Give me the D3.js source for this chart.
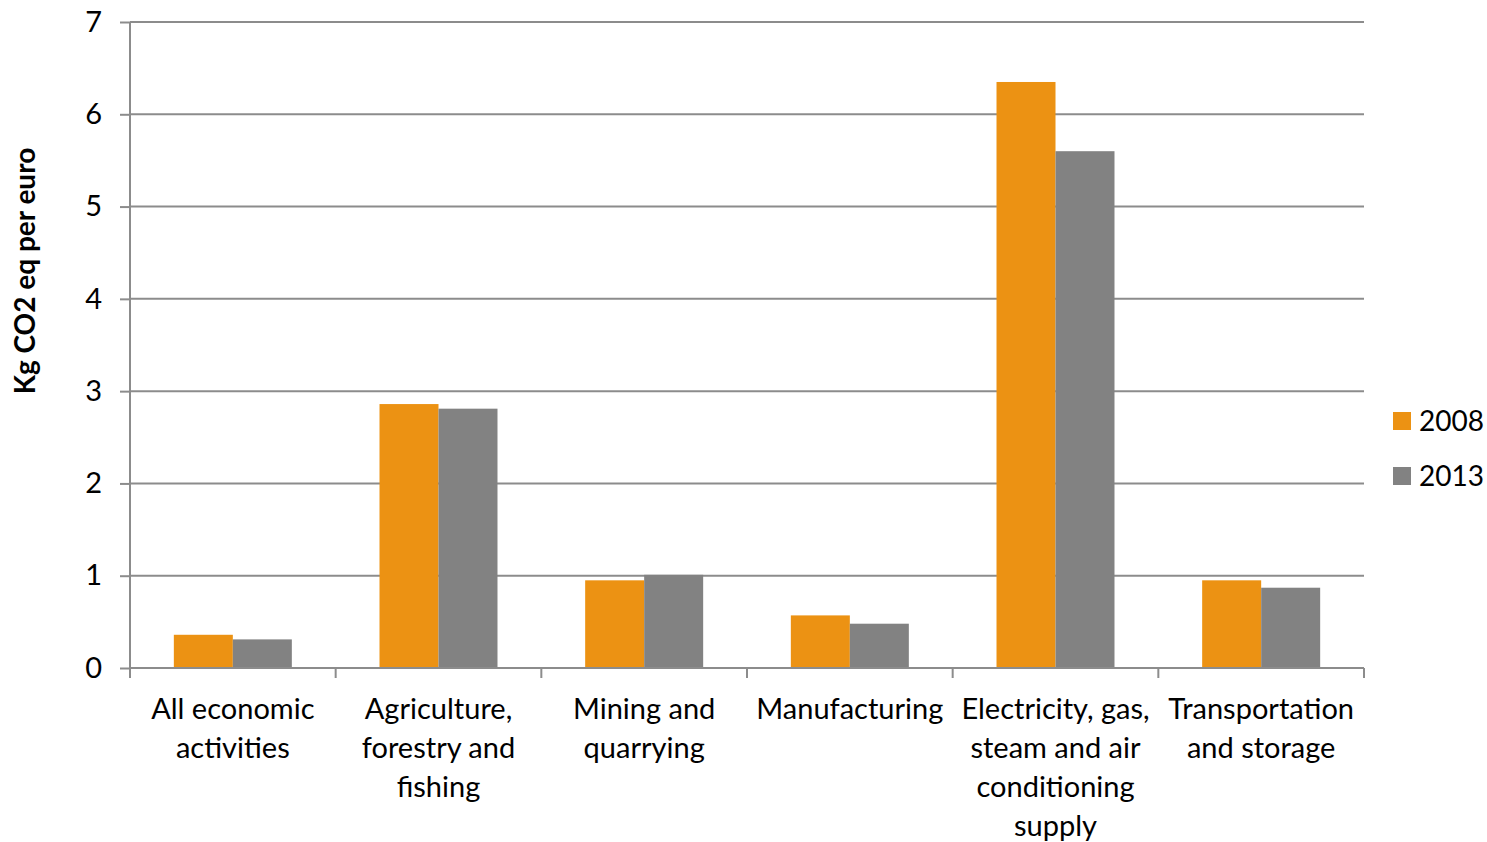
<!DOCTYPE html>
<html>
<head>
<meta charset="utf-8">
<script src="https://cdn.jsdelivr.net/npm/d3@7"></script>
<style>
  html, body { margin: 0; padding: 0; background: #fff; }
  svg { display: block; }
  text { font-family: Lato, "Open Sans", sans-serif; fill: #000; }
</style>
</head>
<body>
<svg id="chart" width="1487" height="842"></svg>
<script>
// Greenhouse gas emission intensity by economic activity
const categories = [
  ["All economic", "activities"],
  ["Agriculture,", "forestry and", "fishing"],
  ["Mining and", "quarrying"],
  ["Manufacturing"],
  ["Electricity, gas,", "steam and air", "conditioning", "supply"],
  ["Transportation", "and storage"]
];
const seriesNames = ["2008", "2013"];
const values2008 = [0.36, 2.86, 0.95, 0.57, 6.35, 0.95];
const values2013 = [0.31, 2.81, 1.01, 0.48, 5.60, 0.87];
const yTicks = [0, 1, 2, 3, 4, 5, 6, 7];
const yTitle = "Kg CO2 eq per euro";
const colors = ["#EC9213", "#828282"];

const svg = d3.select("#chart");
const plotLeft = 130, plotRight = 1364, plotTop = 22, plotBottom = 668;

const catIdx = d3.range(categories.length);
const x0 = d3.scaleBand().domain(catIdx).range([plotLeft, plotRight]).padding(0);
const x1 = d3.scaleBand().domain(seriesNames)
  .range([0, x0.bandwidth()]).paddingInner(0).paddingOuter(0.743);
const y = d3.scaleLinear().domain([0, 7]).range([plotBottom, plotTop]);

const axisColor = "#8c8c8c";

// gridlines
svg.append("g").selectAll("line").data(yTicks.filter(t => t > 0)).join("line")
  .attr("x1", plotLeft).attr("x2", plotRight)
  .attr("y1", d => y(d)).attr("y2", d => y(d))
  .attr("stroke", axisColor).attr("stroke-width", 2);

// bars
const rows = catIdx.map(i => ({ i, vals: [values2008[i], values2013[i]] }));
const groups = svg.append("g").selectAll("g").data(rows).join("g")
  .attr("transform", d => `translate(${x0(d.i)},0)`);
groups.selectAll("rect").data(d => d.vals.map((v, k) => ({ v, k }))).join("rect")
  .attr("x", d => x1(seriesNames[d.k]))
  .attr("width", x1.bandwidth())
  .attr("y", d => y(d.v))
  .attr("height", d => y(0) - y(d.v))
  .attr("fill", d => colors[d.k]);

// y axis
const yAxis = svg.append("g").attr("transform", `translate(${plotLeft},0)`)
  .call(d3.axisLeft(y).tickValues(yTicks).tickSize(10).tickPadding(18).tickFormat(d3.format("d")));
yAxis.select(".domain").attr("stroke", axisColor).attr("stroke-width", 2)
  .attr("d", `M0,${plotTop}V${plotBottom}`);
yAxis.selectAll(".tick line").attr("stroke", axisColor).attr("stroke-width", 2);
yAxis.selectAll(".tick text").attr("font-size", 29).attr("font-family", "Lato, 'Open Sans', sans-serif").attr("fill", "#000");

// x axis
const xAxisG = svg.append("g").attr("transform", `translate(0,${plotBottom})`);
xAxisG.append("line").attr("x1", plotLeft).attr("x2", plotRight).attr("y1", 0).attr("y2", 0)
  .attr("stroke", axisColor).attr("stroke-width", 2);
const boundaries = catIdx.map(i => x0(i)).concat([plotRight]);
xAxisG.selectAll(".xtick").data(boundaries).join("line").attr("class", "xtick")
  .attr("x1", d => d).attr("x2", d => d).attr("y1", 0).attr("y2", 10)
  .attr("stroke", axisColor).attr("stroke-width", 2);

// category labels
const lab = svg.append("g").selectAll("text").data(rows).join("text")
  .attr("text-anchor", "middle")
  .attr("font-size", 29)
  .attr("x", d => x0(d.i) + x0.bandwidth() / 2)
  .attr("y", 719);
lab.selectAll("tspan").data(d => categories[d.i]).join("tspan")
  .attr("x", function() { return d3.select(this.parentNode).attr("x"); })
  .attr("dy", (d, k) => k === 0 ? 0 : 39)
  .text(d => d);

// y axis title
svg.append("text")
  .attr("transform", "translate(35,271) rotate(-90)")
  .attr("text-anchor", "middle")
  .attr("font-size", 28)
  .attr("font-weight", "bold")
  .text(yTitle);

// legend
const leg = svg.append("g").selectAll("g").data(seriesNames).join("g")
  .attr("transform", (d, k) => `translate(1393,${412 + k * 55})`);
leg.append("rect").attr("width", 18).attr("height", 18)
  .attr("fill", (d, k) => colors[k]);
leg.append("text").attr("x", 26).attr("y", 19).attr("font-size", 28).text(d => d);
</script>
</body>
</html>
